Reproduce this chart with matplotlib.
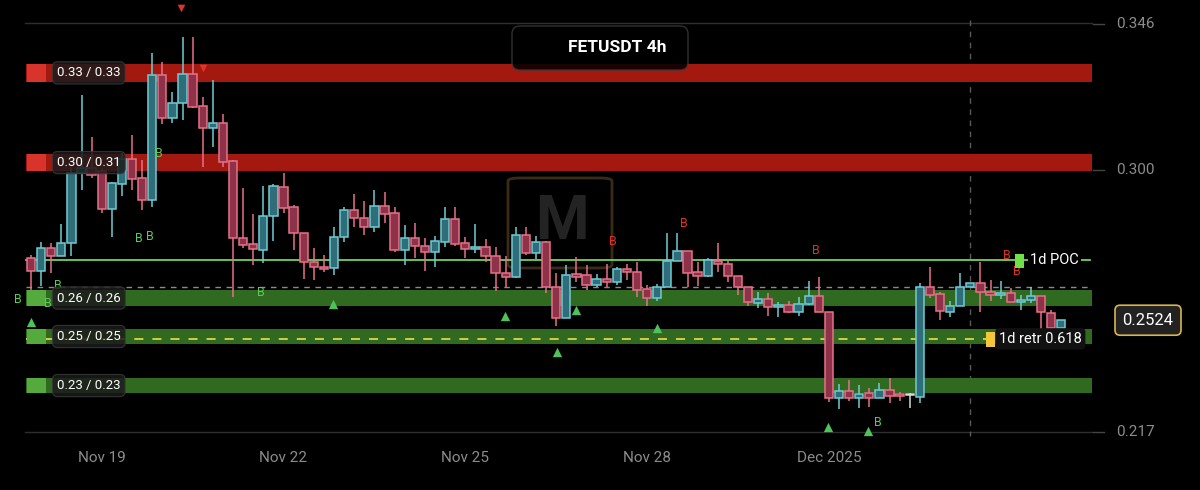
import matplotlib
matplotlib.use("Agg")
import matplotlib.pyplot as plt
from matplotlib.patches import FancyBboxPatch, Rectangle

plt.rcParams['font.family'] = ['Roboto', 'DejaVu Sans']

# 4h candles, index 0 = Nov 17 20:00
opens = [0.2721, 0.2679, 0.2752, 0.2727, 0.2768, 0.2989, 0.3005, 0.2995, 0.2875, 0.2954,
         0.3033, 0.2973, 0.2904, 0.3299, 0.3163, 0.3210, 0.3302, 0.3201, 0.3131, 0.3147,
         0.3027, 0.2784, 0.2765, 0.2746, 0.2853, 0.2945, 0.2882, 0.2800, 0.2708, 0.2692,
         0.2689, 0.2787, 0.2872, 0.2847, 0.2819, 0.2885, 0.2863, 0.2746, 0.2784, 0.2758,
         0.2740, 0.2771, 0.2844, 0.2768, 0.2749, 0.2755, 0.2727, 0.2673, 0.2660, 0.2793,
         0.2736, 0.2771, 0.2629, 0.2531, 0.2670, 0.2667, 0.2635, 0.2654, 0.2645, 0.2686,
         0.2676, 0.2623, 0.2594, 0.2629, 0.2711, 0.2743, 0.2676, 0.2664, 0.2711, 0.2702,
         0.2664, 0.2629, 0.2578, 0.2591, 0.2566, 0.2572, 0.2550, 0.2575, 0.2600, 0.2550,
         0.2278, 0.2300, 0.2278, 0.2294, 0.2278, 0.2303, 0.2291, 0.2288, 0.2281, 0.2629,
         0.2607, 0.2550, 0.2569, 0.2629, 0.2642, 0.2613, 0.2604, 0.2610, 0.2581, 0.2588,
         0.2600, 0.2547, 0.2499]
highs = [0.2730, 0.2771, 0.2768, 0.2828, 0.3008, 0.3236, 0.3103, 0.3005, 0.2961, 0.3052,
         0.3109, 0.3030, 0.3368, 0.3340, 0.3245, 0.3419, 0.3419, 0.3229, 0.3283, 0.3176,
         0.3030, 0.2942, 0.2860, 0.2948, 0.2954, 0.2989, 0.2888, 0.2800, 0.2752, 0.2730,
         0.2819, 0.2882, 0.2923, 0.2901, 0.2935, 0.2929, 0.2882, 0.2825, 0.2831, 0.2784,
         0.2790, 0.2882, 0.2882, 0.2787, 0.2828, 0.2781, 0.2755, 0.2727, 0.2819, 0.2819,
         0.2790, 0.2774, 0.2673, 0.2698, 0.2724, 0.2698, 0.2670, 0.2702, 0.2692, 0.2702,
         0.2708, 0.2635, 0.2638, 0.2800, 0.2800, 0.2743, 0.2708, 0.2721, 0.2768, 0.2711,
         0.2664, 0.2629, 0.2613, 0.2610, 0.2581, 0.2585, 0.2597, 0.2648, 0.2660, 0.2550,
         0.2322, 0.2335, 0.2319, 0.2310, 0.2326, 0.2341, 0.2297, 0.2294, 0.2642, 0.2692,
         0.2613, 0.2585, 0.2673, 0.2642, 0.2708, 0.2651, 0.2648, 0.2626, 0.2604, 0.2629,
         0.2600, 0.2556, 0.2518]
lows = [0.2610, 0.2632, 0.2673, 0.2727, 0.2727, 0.2935, 0.2973, 0.2863, 0.2787, 0.2916,
        0.2935, 0.2872, 0.2882, 0.3144, 0.3147, 0.3157, 0.3195, 0.3008, 0.3071, 0.3008,
        0.2597, 0.2752, 0.2698, 0.2705, 0.2774, 0.2863, 0.2746, 0.2654, 0.2651, 0.2676,
        0.2667, 0.2771, 0.2819, 0.2793, 0.2803, 0.2831, 0.2740, 0.2698, 0.2721, 0.2679,
        0.2692, 0.2755, 0.2758, 0.2721, 0.2736, 0.2708, 0.2616, 0.2629, 0.2657, 0.2730,
        0.2717, 0.2610, 0.2506, 0.2531, 0.2645, 0.2619, 0.2629, 0.2629, 0.2635, 0.2651,
        0.2597, 0.2569, 0.2585, 0.2629, 0.2711, 0.2629, 0.2632, 0.2660, 0.2676, 0.2645,
        0.2604, 0.2569, 0.2563, 0.2537, 0.2534, 0.2547, 0.2537, 0.2572, 0.2550, 0.2265,
        0.2243, 0.2269, 0.2247, 0.2250, 0.2278, 0.2262, 0.2269, 0.2247, 0.2262, 0.2594,
        0.2525, 0.2534, 0.2569, 0.2629, 0.2550, 0.2585, 0.2591, 0.2581, 0.2556, 0.2578,
        0.2493, 0.2496, 0.2499]
closes = [0.2679, 0.2752, 0.2727, 0.2768, 0.2989, 0.3005, 0.2983, 0.2875, 0.2958, 0.3033,
          0.2970, 0.2904, 0.3299, 0.3163, 0.3210, 0.3302, 0.3198, 0.3131, 0.3147, 0.3024,
          0.2784, 0.2762, 0.2749, 0.2853, 0.2948, 0.2879, 0.2800, 0.2708, 0.2692, 0.2686,
          0.2787, 0.2872, 0.2847, 0.2819, 0.2885, 0.2860, 0.2746, 0.2784, 0.2758, 0.2740,
          0.2774, 0.2844, 0.2765, 0.2749, 0.2755, 0.2727, 0.2673, 0.2660, 0.2793, 0.2736,
          0.2771, 0.2629, 0.2531, 0.2667, 0.2660, 0.2635, 0.2654, 0.2645, 0.2686, 0.2676,
          0.2619, 0.2594, 0.2629, 0.2711, 0.2743, 0.2673, 0.2664, 0.2714, 0.2702, 0.2664,
          0.2629, 0.2581, 0.2591, 0.2566, 0.2572, 0.2550, 0.2575, 0.2600, 0.2550, 0.2278,
          0.2300, 0.2278, 0.2291, 0.2278, 0.2303, 0.2284, 0.2284, 0.2288, 0.2629, 0.2604,
          0.2553, 0.2569, 0.2629, 0.2642, 0.2613, 0.2604, 0.2610, 0.2581, 0.2588, 0.2600,
          0.2550, 0.2499, 0.2524]

date_ticks = [7, 25, 43, 61, 79]
date_labels = ["Nov 19", "Nov 22", "Nov 25", "Nov 28", "Dec 2025"]
price_ticks = [0.346, 0.300, 0.217]
last_price = 0.2524

# zones: (low, high, label, kind)
zones = [(0.3277, 0.3334, "0.33 / 0.33", "red"),
         (0.2995, 0.3049, "0.30 / 0.31", "red"),
         (0.2569, 0.2619, "0.26 / 0.26", "green"),
         (0.2449, 0.2496, "0.25 / 0.25", "green"),
         (0.2294, 0.2341, "0.23 / 0.23", "green")]
poc = 0.2714
retr = 0.2465
gray_level = 0.2629
vline_idx = 93

green_b = [(-1.3, 0.2591), (1.7, 0.2578), (2.7, 0.2635), (10.7, 0.2781), (11.8, 0.2787),
           (12.7, 0.3052), (22.8, 0.2610), (83.8, 0.2202)]
red_b = [(57.6, 0.2774), (64.6, 0.2831), (77.7, 0.2743), (96.6, 0.2727), (97.6, 0.2679)]
red_down = [(14.9, 0.3511), (17.0, 0.3321)]
green_up = [(0.0, 0.2518), (29.9, 0.2575), (46.9, 0.2537), (52.1, 0.2424), (54.0, 0.2556),
            (62.0, 0.2499), (78.9, 0.2187), (82.9, 0.2174)]


def px(x):
    return (x - 31) / 10.1


def py(y):
    return 0.353584 - 0.000316 * y


fig = plt.figure(figsize=(12, 4.9), dpi=100, facecolor='black')
ax = fig.add_axes([0, 0, 1, 1])
ax.set_facecolor('black')
ax.set_xlim(px(0), px(1200))
ax.set_ylim(py(490), py(0))
ax.axis('off')

# frame lines
ax.plot([px(25), px(1092)], [py(23), py(23)], color='#2e2e2e', lw=1, zorder=1)
ax.plot([px(25), px(1092)], [py(432), py(432)], color='#2e2e2e', lw=1, zorder=1)
ax.plot([vline_idx, vline_idx], [py(20), py(436)], color='#5a5a5a', lw=1, ls=(0, (4, 4)), zorder=1)

# watermark
ax.add_patch(FancyBboxPatch((px(508), py(268)), px(612) - px(508), py(178) - py(268),
                            boxstyle='round,pad=0,rounding_size=1.2', mutation_aspect=0.0008,
                            fill=False, edgecolor='#3a2a18', lw=2, zorder=1))
ax.text(px(562), py(222), "M", color='#333333', fontsize=44, fontweight='bold',
        ha='center', va='center', alpha=0.7, zorder=1)

# zones
for lo, hi, lab, kind in zones:
    fc = '#a3180f' if kind == 'red' else '#2f6a20'
    sq = '#d8342b' if kind == 'red' else '#55aa3e'
    ax.add_patch(Rectangle((px(26), lo), px(1092) - px(26), hi - lo, facecolor=fc,
                           edgecolor='none', zorder=2))
    ax.add_patch(Rectangle((px(27), lo), px(46) - px(27), hi - lo, facecolor=sq,
                           edgecolor='none', zorder=6))
    ax.text(px(57), (lo + hi) / 2, lab, color='white', fontsize=9.5, ha='left', va='center',
            zorder=7, bbox=dict(boxstyle='round,pad=0.35,rounding_size=0.4', facecolor='#1b1b1b',
                                edgecolor='#3a3a3a', alpha=0.85, lw=0.8))

ax.plot([px(26), px(1092)], [gray_level, gray_level], color='#8a8a8a', lw=1, ls=(0, (4, 4)), zorder=3)
ax.plot([px(26), px(1090)], [poc, poc], color='#6fd35a', lw=1.3, zorder=3)
ax.plot([px(26), px(1090)], [retr, retr], color='#e3d44a', lw=1.3, ls=(0, (5, 5)), zorder=3)

# candles
for i in range(len(opens)):
    o, h, l, c = opens[i], highs[i], lows[i], closes[i]
    if c > o:
        ec, fc = '#6fcbd4', '#2f6e78'
    elif c < o:
        ec, fc = '#e8718a', '#8e3249'
    else:
        ec, fc = '#d8d8d8', '#d8d8d8'
    ax.vlines(i, l, h, color=ec, lw=1.1, zorder=4)
    body = abs(c - o)
    if body < 0.0004:
        body = 0.0004
    ax.bar(i, body, bottom=min(o, c), width=0.82, color=fc, edgecolor=ec, lw=1.1, zorder=5)

# signals
for x, y in green_b:
    ax.text(x, y, "B", color='#5cc85a', fontsize=9, ha='center', va='center', zorder=6)
for x, y in red_b:
    ax.text(x, y, "B", color='#d8342b', fontsize=9, ha='center', va='center', zorder=6)
ax.scatter([p[0] for p in red_down], [p[1] for p in red_down], marker='v', s=30,
           color='#e0332b', zorder=6, linewidths=0)
ax.scatter([p[0] for p in green_up], [p[1] for p in green_up], marker='^', s=45,
           color='#4fc35a', zorder=6, linewidths=0)

# line labels
ax.text(px(1030), poc, "1d POC", color='white', fontsize=10.5, ha='left', va='center', zorder=8,
        bbox=dict(boxstyle='square,pad=0.15', facecolor='black', edgecolor='none'))
ax.add_patch(Rectangle((px(1015), py(268)), px(1024) - px(1015), py(254) - py(268),
                       facecolor='#6fe04a', edgecolor='none', zorder=9))
ax.text(px(999), retr, "1d retr 0.618", color='white', fontsize=10.5, ha='left', va='center',
        zorder=8, bbox=dict(boxstyle='round,pad=0.25', facecolor='#111111', edgecolor='none'))
ax.add_patch(Rectangle((px(986), py(347)), px(995) - px(986), py(332) - py(347),
                       facecolor='#f2c83a', edgecolor='none', zorder=9))

# price scale
for v in price_ticks:
    ax.plot([px(1093), px(1104)], [v, v], color='#444444', lw=1, zorder=3)
    ax.text(px(1116), v, f"{v:.3f}", color='#8c8c8c', fontsize=11, ha='left', va='center')
ax.text(px(1148), last_price, f"{last_price:.4f}", color='white', fontsize=12, ha='center',
        va='center', zorder=9,
        bbox=dict(boxstyle='round,pad=0.45,rounding_size=0.3', facecolor='#222222',
                  edgecolor='#d9b54a', lw=1.2))

# date labels
for t, lab in zip(date_ticks, date_labels):
    ax.text(t, py(458), lab, color='#8c8c8c', fontsize=11, ha='center', va='center')

# title box
fig.patches.append(FancyBboxPatch((5.12, (490 - 70) / 100), 1.76, 0.44,
                                  boxstyle='round,pad=0,rounding_size=0.08',
                                  transform=fig.dpi_scale_trans, facecolor='black',
                                  edgecolor='#3a3a3a', lw=1, alpha=0.85, zorder=10))
fig.text(6.17 / 12, (490 - 47) / 490, "FETUSDT 4h", color='white', fontsize=12.5,
         fontweight='semibold', ha='center', va='center', zorder=11)

fig.savefig("out.png", dpi=100, facecolor='black')
